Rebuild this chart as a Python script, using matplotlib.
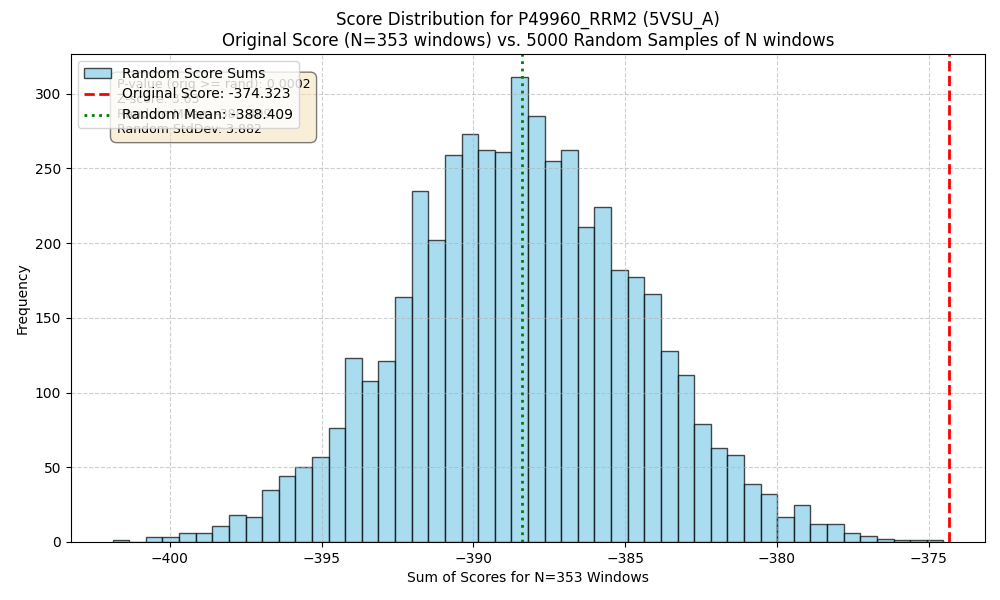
import matplotlib
matplotlib.use("Agg")
import matplotlib.pyplot as plt
import numpy as np

# histogram of the 5000 random score sums (50 bins)
bin_lo = -401.88
bin_hi = -374.52
counts = [1, 0, 3, 3, 6, 6, 11, 18, 17, 35,
          44, 50, 57, 76, 123, 108, 121, 164, 235, 202,
          259, 273, 262, 261, 311, 285, 255, 262, 211, 224,
          182, 177, 166, 128, 112, 79, 63, 58, 39, 32,
          17, 25, 12, 12, 6, 4, 2, 1, 1, 1]

orig_score = -374.323
rand_mean = -388.409
rand_std = 3.882
z_score = 3.63
p_value = 0.0002
n_windows = 353
n_samples = 5000

edges = np.linspace(bin_lo, bin_hi, len(counts) + 1)
centers = 0.5 * (edges[:-1] + edges[1:])

fig, ax = plt.subplots(figsize=(10, 6), dpi=100)

ax.hist(centers, bins=edges, weights=counts, color='skyblue',
        edgecolor='black', alpha=0.7, label='Random Score Sums')
ax.axvline(orig_score, color='red', linestyle='--', linewidth=2,
           label=f'Original Score: {orig_score:.3f}')
ax.axvline(rand_mean, color='green', linestyle=':', linewidth=2,
           label=f'Random Mean: {rand_mean:.3f}')

stats_text = (f"P-value (orig >= rand): {p_value:.4f}\n"
              f"Z-score: {z_score:.2f}\n"
              f"Random Mean: {rand_mean:.3f}\n"
              f"Random StdDev: {rand_std:.3f}")
ax.text(0.05, 0.95, stats_text, transform=ax.transAxes, fontsize=9,
        verticalalignment='top',
        bbox=dict(boxstyle='round,pad=0.5', facecolor='wheat', alpha=0.5))

ax.set_title(f"Score Distribution for P49960_RRM2 (5VSU_A)\n"
             f"Original Score (N={n_windows} windows) vs. {n_samples} "
             f"Random Samples of N windows")
ax.set_xlabel(f"Sum of Scores for N={n_windows} Windows")
ax.set_ylabel("Frequency")
ax.set_xlim(-403.25, -373.15)
ax.legend(loc='upper left')
ax.grid(True, linestyle='--', alpha=0.6)

fig.subplots_adjust(left=0.071, right=0.985, top=0.91, bottom=0.0967)
plt.savefig("out.png")
